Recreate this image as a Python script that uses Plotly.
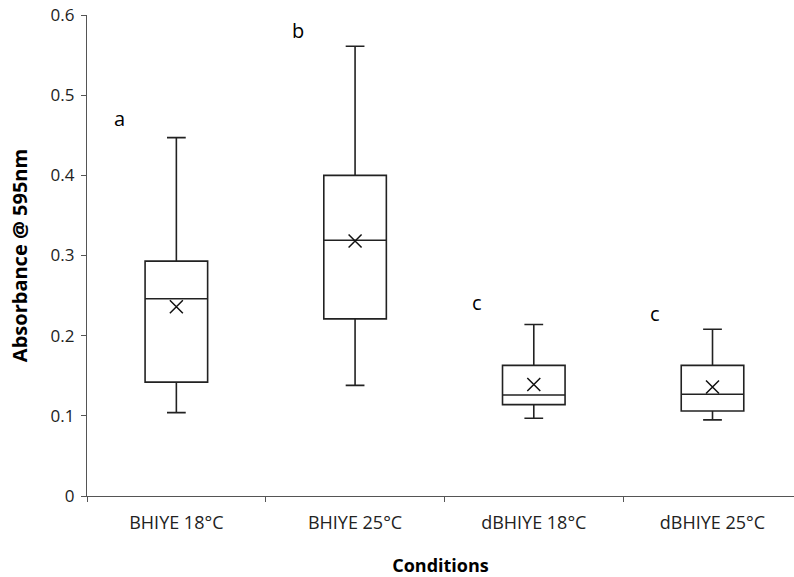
import plotly.graph_objects as go

categories = ["BHIYE 18°C", "BHIYE 25°C", "dBHIYE 18°C", "dBHIYE 25°C"]
lower_whisker = [0.104, 0.138, 0.097, 0.095]
q1_values = [0.142, 0.221, 0.114, 0.106]
median_values = [0.246, 0.319, 0.126, 0.127]
q3_values = [0.293, 0.400, 0.163, 0.163]
upper_whisker = [0.447, 0.561, 0.214, 0.208]
mean_values = [0.236, 0.318, 0.139, 0.136]
group_letters = ["a", "b", "c", "c"]
letter_heights = [0.471, 0.581, 0.241, 0.228]
y_tick_values = [0, 0.1, 0.2, 0.3, 0.4, 0.5, 0.6]
y_tick_labels = ["0", "0.1", "0.2", "0.3", "0.4", "0.5", "0.6"]

FONT = "Open Sans"
fig = go.Figure()
fig.add_trace(go.Box(
    x=categories, q1=q1_values, median=median_values, q3=q3_values,
    lowerfence=lower_whisker, upperfence=upper_whisker,
    fillcolor="white", line=dict(color="#222222", width=1.6),
    whiskerwidth=0.3, boxpoints=False, showlegend=False, hoverinfo="skip",
))
fig.add_trace(go.Scatter(
    x=categories, y=mean_values, mode="markers",
    marker=dict(symbol="x-thin-open", size=13, color="#111111",
                line=dict(color="#111111", width=1.5)),
    showlegend=False,
))
for i, (lt, h) in enumerate(zip(group_letters, letter_heights)):
    fig.add_annotation(x=i - 0.32, y=h, text=lt, showarrow=False, xref="x", yref="y",
                       font=dict(family=FONT, size=20, color="black"))

fig.update_layout(
    width=794, height=577, plot_bgcolor="white", paper_bgcolor="white",
    margin=dict(l=87, r=0, t=15, b=81),
    boxgap=0.5,
    font=dict(family=FONT, color="black"),
    xaxis=dict(
        type="category", range=[-0.5, 3.456], showline=True, linecolor="#555555", linewidth=1.2,
        ticks="outside", tickson="boundaries", ticklen=5, tickcolor="#555555",
        ticklabelstandoff=10, automargin=False,
        tickfont=dict(family=FONT, size=18, color="#222222"), showgrid=False,
        title=dict(text="<b>Conditions</b>", font=dict(family=FONT, size=18), standoff=26),
    ),
    yaxis=dict(
        range=[0, 0.6], tickvals=y_tick_values, ticktext=y_tick_labels,
        showline=True, linecolor="#555555", linewidth=1.2, automargin=False,
        ticks="outside", ticklen=5, tickcolor="#555555", showgrid=False, zeroline=False,
        ticklabelstandoff=3, ticklabeloverflow="allow",
        tickfont=dict(family=FONT, size=17, color="#222222"),
        title=dict(text="<b>Absorbance @ 595nm</b>", font=dict(family=FONT, size=20), standoff=17),
    ),
)
fig.write_html("out.html", config={"displayModeBar": False},
               post_script="document.body.style.margin='0';")
